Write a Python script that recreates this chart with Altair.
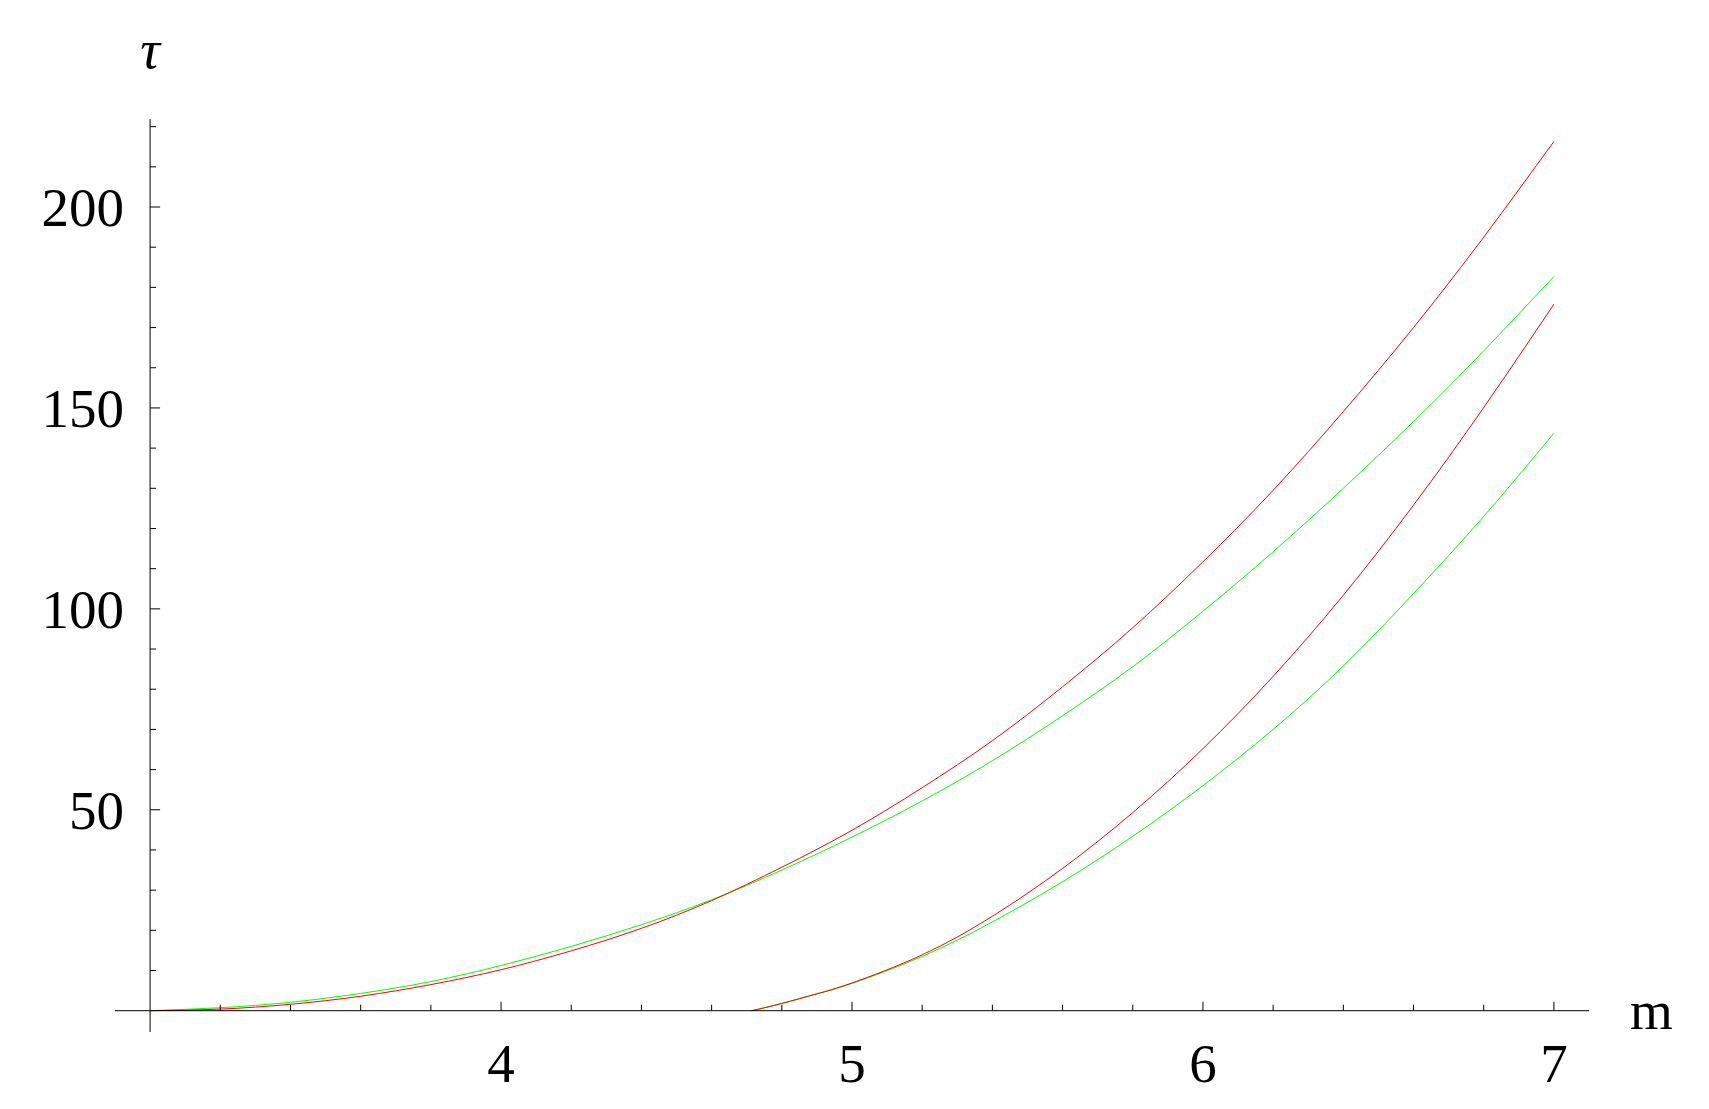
import altair as alt
import pandas as pd

# ---- data ----
x_upper = [3.0, 3.2, 3.4, 3.6, 3.8, 4.0, 4.2, 4.4, 4.6, 4.8, 5.0,
           5.2, 5.4, 5.6, 5.8, 6.0, 6.2, 6.4, 6.6, 6.8, 7.0]
red_upper = [0.0, 0.4, 1.6, 3.6, 6.5, 10.2, 14.9, 20.5, 27.4, 35.7, 44.9,
             55.5, 67.2, 80.6, 95.3, 111.7, 129.5, 149.1, 170.0, 192.5, 216.3]
green_upper = [0.0, 0.75, 2.1, 4.3, 7.25, 11.25, 16.0, 21.4, 27.6, 35.0, 43.2,
               52.2, 62.2, 73.4, 85.6, 99.4, 114.2, 130.0, 146.6, 164.2, 182.7]

x_lower = [4.714, 4.8, 4.9, 5.0, 5.2, 5.4, 5.6, 5.8, 6.0, 6.2, 6.4, 6.6, 6.8, 7.0]
red_lower = [0.0, 1.8, 4.2, 6.9, 13.9, 23.5, 35.4, 49.3, 65.2, 83.2, 103.4, 125.8, 150.1, 175.8]
green_lower = [0.0, 1.8, 4.2, 6.8, 13.5, 22.1, 32.1, 43.4, 56.0, 70.0, 85.8, 103.8, 123.0, 143.7]

x_tick_labels = [4, 5, 6, 7]
y_tick_labels = [50, 100, 150, 200]
x_minor_ticks = [3.2, 3.4, 3.6, 3.8, 4.2, 4.4, 4.6, 4.8, 5.2, 5.4, 5.6, 5.8,
                 6.2, 6.4, 6.6, 6.8]
y_minor_ticks = [10, 20, 30, 40, 60, 70, 80, 90, 110, 120, 130, 140,
                 160, 170, 180, 190, 210, 220]
x_axis_range = [2.9, 7.1]
y_axis_range = [-5.3, 221.9]
axis_origin = [3.0, 0.0]
x_axis_title = "m"
y_axis_title = "τ"

# ---- tables ----
def curve(xs, ys, name):
    return pd.DataFrame({"m": xs, "tau": ys, "curve": name})

red_df = pd.concat([curve(x_upper, red_upper, "red_upper"),
                    curve(x_lower, red_lower, "red_lower")])
green_df = pd.concat([curve(x_upper, green_upper, "green_upper"),
                      curve(x_lower, green_lower, "green_lower")])

xs = alt.Scale(domain=x_axis_range, nice=False, zero=False)
ys = alt.Scale(domain=y_axis_range, nice=False, zero=False)
FONT = "Liberation Serif"
FS = 55


def X(field):
    return alt.X(field, type="quantitative", scale=xs, axis=None)


def Y(field):
    return alt.Y(field, type="quantitative", scale=ys, axis=None)


green_lines = alt.Chart(green_df).mark_line(
    color="#00ff00", strokeWidth=1, interpolate="natural"
).encode(x=X("m"), y=Y("tau"), detail="curve:N")

red_lines = alt.Chart(red_df).mark_line(
    color="#ff0000", strokeWidth=1, interpolate="natural"
).encode(x=X("m"), y=Y("tau"), detail="curve:N")

# axis lines crossing at the origin
x_axis_df = pd.DataFrame({"x": [x_axis_range[0]], "x2": [x_axis_range[1]], "y": [axis_origin[1]]})
y_axis_df = pd.DataFrame({"x": [axis_origin[0]], "y": [y_axis_range[0]], "y2": [y_axis_range[1]]})

x_axis_line = alt.Chart(x_axis_df).mark_rule(color="black", strokeWidth=1).encode(
    x=X("x"), x2="x2", y=Y("y"))
y_axis_line = alt.Chart(y_axis_df).mark_rule(color="black", strokeWidth=1).encode(
    x=X("x"), y=Y("y"), y2="y2")

# ticks (pointing inward)
x_major_df = pd.DataFrame({"x": x_tick_labels, "y": axis_origin[1]})
x_minor_df = pd.DataFrame({"x": x_minor_ticks, "y": axis_origin[1]})
y_major_df = pd.DataFrame({"x": axis_origin[0], "y": y_tick_labels})
y_minor_df = pd.DataFrame({"x": axis_origin[0], "y": y_minor_ticks})

x_major_ticks = alt.Chart(x_major_df).mark_tick(
    orient="vertical", size=9, thickness=1, yOffset=-4.5, color="black", opacity=1
).encode(x=X("x"), y=Y("y"))
x_minor_tick_marks = alt.Chart(x_minor_df).mark_tick(
    orient="vertical", size=6, thickness=1, yOffset=-3, color="black", opacity=1
).encode(x=X("x"), y=Y("y"))
y_major_ticks = alt.Chart(y_major_df).mark_tick(
    orient="horizontal", size=10, thickness=1, xOffset=5, color="black", opacity=1
).encode(x=X("x"), y=Y("y"))
y_minor_tick_marks = alt.Chart(y_minor_df).mark_tick(
    orient="horizontal", size=6, thickness=1, xOffset=3, color="black", opacity=1
).encode(x=X("x"), y=Y("y"))

# tick labels
x_label_df = pd.DataFrame({"x": x_tick_labels, "y": axis_origin[1],
                           "t": [str(v) for v in x_tick_labels]})
y_label_df = pd.DataFrame({"x": axis_origin[0], "y": y_tick_labels,
                           "t": [str(v) for v in y_tick_labels]})

x_labels = alt.Chart(x_label_df).mark_text(
    font=FONT, fontSize=FS, align="center", baseline="alphabetic", dy=71, color="black"
).encode(x=X("x"), y=Y("y"), text="t:N")
y_labels = alt.Chart(y_label_df).mark_text(
    font=FONT, fontSize=FS, align="right", baseline="alphabetic", dx=-26, dy=19, color="black"
).encode(x=X("x"), y=Y("y"), text="t:N")

# axis titles
tau_df = pd.DataFrame({"x": [axis_origin[0]], "y": [y_axis_range[1]], "t": [y_axis_title]})
m_df = pd.DataFrame({"x": [x_axis_range[1]], "y": [axis_origin[1]], "t": [x_axis_title]})

tau_label = alt.Chart(tau_df).mark_text(
    font=FONT, fontSize=FS, fontStyle="italic", align="center", baseline="alphabetic",
    dy=-51, color="black"
).encode(x=X("x"), y=Y("y"), text="t:N")
m_label = alt.Chart(m_df).mark_text(
    font=FONT, fontSize=FS, align="left", baseline="alphabetic", dx=41, dy=18, color="black"
).encode(x=X("x"), y=Y("y"), text="t:N")

chart = alt.layer(
    green_lines, red_lines,
    x_axis_line, y_axis_line,
    x_major_ticks, x_minor_tick_marks, y_major_ticks, y_minor_tick_marks,
    x_labels, y_labels, tau_label, m_label,
).properties(
    width=1474, height=913,
    autosize=alt.AutoSizeParams(type="none"),
    padding={"left": 107, "top": 111, "right": 110, "bottom": 70},
    background="white",
).configure_view(stroke=None)

chart.save("out.html", embed_options={"renderer": "svg", "actions": False})
